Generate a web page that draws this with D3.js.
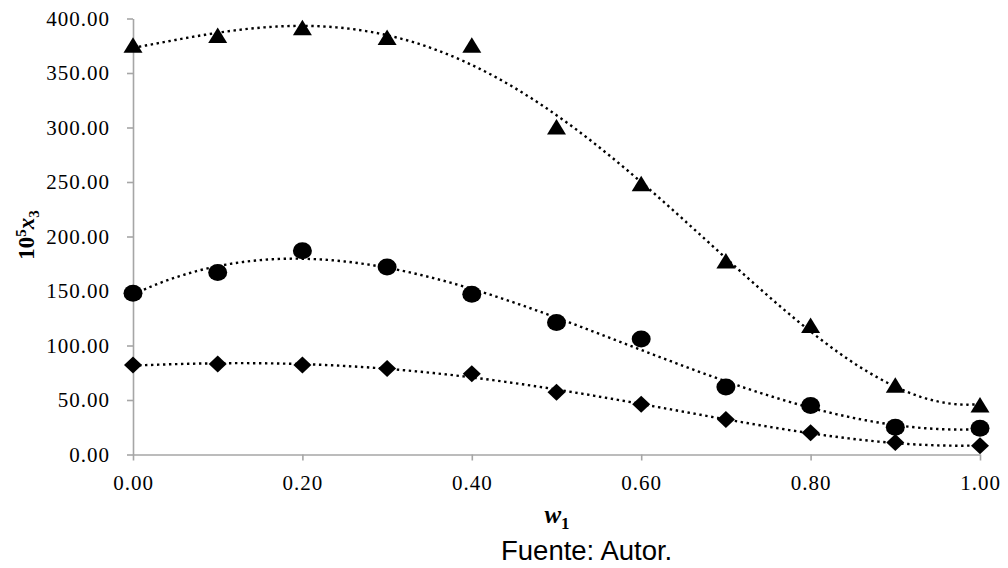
<!DOCTYPE html>
<html>
<head>
<meta charset="utf-8">
<script src="https://cdn.jsdelivr.net/npm/d3@7"></script>
<style>
  body { margin: 0; background: #fff; }
  .tick text { font-family: "Liberation Serif", "Times New Roman", serif; font-size: 21px; fill: #000; letter-spacing: 1px; }
</style>
</head>
<body>
<script>
// data
var w1 = [0.0, 0.1, 0.2, 0.3, 0.4, 0.5, 0.6, 0.7, 0.8, 0.9, 1.0];
var triangles = [375, 384, 391, 382, 375, 300, 248, 177, 118, 63, 45];
var circles   = [148, 167, 187, 172, 147, 121, 106, 62, 45, 25, 24];
var diamonds  = [82, 83, 82, 79, 74, 57, 46, 32, 20, 11, 8];
var xTicks = [0, 0.2, 0.4, 0.6, 0.8, 1.0];
var yTicks = [0, 50, 100, 150, 200, 250, 300, 350, 400];
var trendOrder = 4;

var width = 1008,
    height = 568;

var svg = d3.select("body").append("svg")
    .attr("width", width)
    .attr("height", height);

var x = d3.scaleLinear().domain([0, 1]).range([133, 980]);
var y = d3.scaleLinear().domain([0, 400]).range([454.5, 18.5]);
var fmt = d3.format(".2f");

// least squares polynomial, like the excel trendline
function polyfit(xs, ys, order) {
  var n = order + 1;
  var A = [], b = [];
  for (var i = 0; i < n; i++) {
    A.push(new Array(n).fill(0));
    b.push(0);
  }
  xs.forEach(function(xv, k) {
    for (var i = 0; i < n; i++) {
      for (var j = 0; j < n; j++) A[i][j] += Math.pow(xv, i + j);
      b[i] += ys[k] * Math.pow(xv, i);
    }
  });
  // gaussian elimination
  for (var c = 0; c < n; c++) {
    var p = c;
    for (var r = c + 1; r < n; r++) if (Math.abs(A[r][c]) > Math.abs(A[p][c])) p = r;
    var t = A[c]; A[c] = A[p]; A[p] = t;
    t = b[c]; b[c] = b[p]; b[p] = t;
    for (var r = c + 1; r < n; r++) {
      var f = A[r][c] / A[c][c];
      for (var j = c; j < n; j++) A[r][j] -= f * A[c][j];
      b[r] -= f * b[c];
    }
  }
  var coef = new Array(n).fill(0);
  for (var i = n - 1; i >= 0; i--) {
    var s = b[i];
    for (var j = i + 1; j < n; j++) s -= A[i][j] * coef[j];
    coef[i] = s / A[i][i];
  }
  return function(xv) {
    return coef.reduce(function(acc, cf, i) { return acc + cf * Math.pow(xv, i); }, 0);
  };
}

// axes
var xAxis = svg.append("g")
    .attr("class", "x-axis")
    .attr("transform", "translate(0," + y(0) + ")")
    .call(d3.axisBottom(x).tickValues(xTicks).tickFormat(fmt).tickSize(6).tickSizeOuter(0).tickPadding(14.5));

var yAxis = svg.append("g")
    .attr("class", "y-axis")
    .attr("transform", "translate(" + x(0) + ",0)")
    .call(d3.axisLeft(y).tickValues(yTicks).tickFormat(fmt).tickSize(6).tickSizeOuter(0).tickPadding(17));

svg.selectAll(".x-axis path, .y-axis path, .x-axis line, .y-axis line")
    .attr("stroke", "#a6a6a6")
    .attr("stroke-width", 1.6);

// trend lines
var xs = d3.range(0, 1.0001, 0.005);
var line = d3.line()
    .x(function(d) { return x(d[0]); })
    .y(function(d) { return y(d[1]); });

[triangles, circles, diamonds].forEach(function(series) {
  var f = polyfit(w1, series, trendOrder);
  svg.append("path")
      .attr("d", line(xs.map(function(v) { return [v, f(v)]; })))
      .attr("fill", "none")
      .attr("stroke", "#000")
      .attr("stroke-width", 2.4)
      .attr("stroke-dasharray", "2.4,3.6");
});

// markers
svg.append("g").selectAll("path")
    .data(triangles)
    .enter()
    .append("path")
    .attr("transform", function(d, i) { return "translate(" + x(w1[i]) + "," + y(d) + ")"; })
    .attr("d", "M0,-8.5L9.5,7L-9.5,7Z")
    .attr("fill", "#000");

svg.append("g").selectAll("ellipse")
    .data(circles)
    .enter()
    .append("ellipse")
    .attr("cx", function(d, i) { return x(w1[i]); })
    .attr("cy", function(d) { return y(d); })
    .attr("rx", 9.5)
    .attr("ry", 8.5)
    .attr("fill", "#000");

svg.append("g").selectAll("path")
    .data(diamonds)
    .enter()
    .append("path")
    .attr("transform", function(d, i) { return "translate(" + x(w1[i]) + "," + y(d) + ")"; })
    .attr("d", "M0,-8.5L9,0L0,8.5L-9,0Z")
    .attr("fill", "#000");

// axis titles
var yTitle = svg.append("text")
    .attr("transform", "translate(34,235) rotate(-90)")
    .attr("text-anchor", "middle")
    .style("font-family", "'Liberation Serif', 'Times New Roman', serif")
    .style("font-weight", "bold")
    .style("font-size", "23px");
yTitle.append("tspan").text("10");
yTitle.append("tspan").attr("dy", -8).style("font-size", "15px").text("5");
yTitle.append("tspan").attr("dy", 8).style("font-style", "italic").text("x");
yTitle.append("tspan").attr("dy", 5).style("font-size", "15px").text("3");

var xTitle = svg.append("text")
    .attr("x", 557)
    .attr("y", 523)
    .attr("text-anchor", "middle")
    .style("font-family", "'Liberation Serif', 'Times New Roman', serif")
    .style("font-weight", "bold")
    .style("font-size", "25px");
xTitle.append("tspan").style("font-style", "italic").text("w");
xTitle.append("tspan").attr("dy", 6).style("font-size", "17px").text("1");

svg.append("text")
    .attr("x", 501)
    .attr("y", 560)
    .style("font-family", "'Liberation Sans', Arial, sans-serif")
    .style("font-size", "27.5px")
    .text("Fuente: Autor.");
</script>
</body>
</html>
